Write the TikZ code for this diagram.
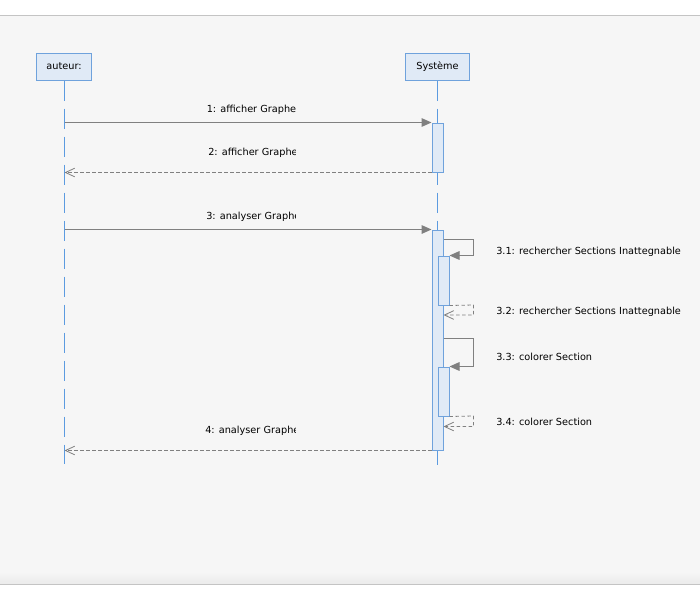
\documentclass[tikz,border=0pt]{standalone}
\usepackage{fontspec}
\setmainfont{DejaVu Sans}
\usetikzlibrary{arrows.meta}
\definecolor{bg}{HTML}{F6F6F6}
\definecolor{edge}{HTML}{C4C4C4}
\definecolor{boxfill}{HTML}{E0EAF6}
\definecolor{boxline}{HTML}{6FA2DC}
\definecolor{lifec}{HTML}{5C9BE0}
\definecolor{msgc}{HTML}{808080}
\tikzset{
  head/.style={draw=boxline, fill=boxfill, line width=0.75pt, minimum height=20.25pt, inner sep=0pt, font=\fontsize{7.3}{8.5}\selectfont},
  actbar/.style={draw=boxline, fill=boxfill, line width=0.75pt, minimum width=8.25pt, inner sep=0pt},
  lifeline/.style={draw=lifec, line width=0.8pt, dash pattern=on 15pt off 6pt},
  msg/.style={draw=msgc, line width=0.75pt, -{Triangle[length=7.5pt,width=6.5pt]}},
  ret/.style={draw=msgc, line width=0.6pt, dash pattern=on 2.5pt off 2pt, -{Straight Barb[length=7pt,width=6.5pt]}},
  lbl/.style={anchor=west, inner sep=0pt, text=black, font=\fontsize{7.3}{8.5}\selectfont},
}
\begin{document}
\begin{tikzpicture}[x=0.75pt,y=-0.75pt]
\useasboundingbox (0,0) rectangle (700,600);
% background
\fill[white] (0,0) rectangle (700,600);
\fill[bg] (0,15.5) rectangle (700,584);
\shade[top color=bg, bottom color=black!8] (0,572) rectangle (700,584);
\draw[edge, line width=0.75pt] (0,15.5) -- (700,15.5);
\draw[edge, line width=0.75pt] (0,584) -- (700,584);
% heads
\node[head, minimum width=41.25pt] (auteur) at (64,66.5) {auteur:};
\node[head, minimum width=48pt] (sys) at (437.5,66.5) {Système};
% lifeline ends
\coordinate (aend) at (64.5,464);
\coordinate (send) at (437.5,466);
\draw[lifeline] (auteur.south -| aend) -- (aend);
\draw[lifeline] (sys.south -| send) -- (send);
% activation bars
\node[actbar, minimum height=36.75pt] (act1) at (437.5,147.5) {};
\node[actbar, minimum height=165pt] (act2) at (437.5,340) {};
\node[actbar, minimum height=36.75pt] (nest1) at (443.5,280.5) {};
\node[actbar, minimum height=36.75pt] (nest2) at (443.5,391.5) {};
% messages
\coordinate (m1s) at (64.5,122.5);
\coordinate (m3s) at (64.5,229.5);
\draw[msg] (m1s) -- (m1s -| act1.west);
\draw[ret] (act1.south west) -- (act1.south west -| aend);
\draw[msg] (m3s) -- (m3s -| act2.west);
\draw[msg] (act2.east |- 0,239.5) -- (473.5,239.5) |- (nest1.east |- 0,255.5);
\draw[ret] (nest1.south east) -- (473.5,305) |- (act2.east |- 0,315);
\draw[msg] (act2.east |- 0,338.5) -- (473.5,338.5) |- (nest2.east |- 0,366.5);
\draw[ret] (nest2.south east) -- (473.5,416) |- (act2.east |- 0,426.5);
\draw[ret] (act2.south west) -- (act2.south west -| aend);
% message labels (clipped as in the reference)
\begin{scope}
\clip (150,90) rectangle (295.5,450);
\node[lbl] (l1) at (206.5,110) {1: afficher Graphe};
\node[lbl] (l2) at (208,153) {2: afficher Graphe};
\node[lbl] (l3) at (206,217) {3: analyser Graphe};
\node[lbl] (l4) at (205,431) {4: analyser Graphe};
\end{scope}
\node[lbl] (l31) at (496,251.5) {3.1: rechercher Sections Inattegnable};
\node[lbl] (l32) at (496,311.5) {3.2: rechercher Sections Inattegnable};
\node[lbl] (l33) at (496,356.5) {3.3: colorer Section};
\node[lbl] (l34) at (496,421.5) {3.4: colorer Section};
\end{tikzpicture}
\end{document}
